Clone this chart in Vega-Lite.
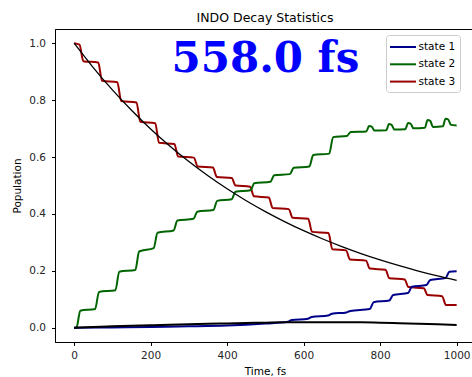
{
  "$schema": "https://vega.github.io/schema/vega-lite/v6.json",
  "autosize": "none",
  "width": 420,
  "height": 313,
  "padding": {"left": 55, "top": 29, "right": 0, "bottom": 35},
  "background": "white",
  "title": {"text": "INDO Decay Statistics", "anchor": "middle", "font": "DejaVu Sans", "fontSize": 12.5, "fontWeight": "normal", "color": "black", "baseline": "alphabetic", "offset": -5.5},
  "config": {
    "view": {"stroke": "black", "strokeWidth": 1},
    "axis": {"grid": false, "domainColor": "black", "tickColor": "black", "tickSize": 3.5, "labelFont": "DejaVu Sans", "labelFontSize": 10.5, "labelColor": "#262626", "titleFont": "DejaVu Sans", "titleFontSize": 10.5, "titleFontWeight": "normal", "titleColor": "black"}
  },
  "datasets": {
    "states": [
      {"t": 0, "pop": 1.0, "series": "state 3"}, {"t": 14, "pop": 0.995, "series": "state 3"}, {"t": 24, "pop": 0.937, "series": "state 3"},
      {"t": 63, "pop": 0.932, "series": "state 3"}, {"t": 73, "pop": 0.868, "series": "state 3"},
      {"t": 113, "pop": 0.863, "series": "state 3"}, {"t": 123, "pop": 0.797, "series": "state 3"},
      {"t": 163, "pop": 0.792, "series": "state 3"}, {"t": 173, "pop": 0.724, "series": "state 3"},
      {"t": 212, "pop": 0.719, "series": "state 3"}, {"t": 222, "pop": 0.65, "series": "state 3"},
      {"t": 262, "pop": 0.646, "series": "state 3"}, {"t": 272, "pop": 0.602, "series": "state 3"},
      {"t": 313, "pop": 0.598, "series": "state 3"}, {"t": 323, "pop": 0.567, "series": "state 3"},
      {"t": 363, "pop": 0.563, "series": "state 3"}, {"t": 373, "pop": 0.53, "series": "state 3"},
      {"t": 412, "pop": 0.526, "series": "state 3"}, {"t": 422, "pop": 0.5, "series": "state 3"},
      {"t": 460, "pop": 0.496, "series": "state 3"}, {"t": 470, "pop": 0.462, "series": "state 3"},
      {"t": 509, "pop": 0.458, "series": "state 3"}, {"t": 519, "pop": 0.421, "series": "state 3"},
      {"t": 561, "pop": 0.417, "series": "state 3"}, {"t": 571, "pop": 0.387, "series": "state 3"},
      {"t": 612, "pop": 0.383, "series": "state 3"}, {"t": 622, "pop": 0.337, "series": "state 3"},
      {"t": 665, "pop": 0.333, "series": "state 3"}, {"t": 675, "pop": 0.276, "series": "state 3"},
      {"t": 711, "pop": 0.272, "series": "state 3"}, {"t": 721, "pop": 0.24, "series": "state 3"},
      {"t": 763, "pop": 0.236, "series": "state 3"}, {"t": 773, "pop": 0.208, "series": "state 3"},
      {"t": 814, "pop": 0.204, "series": "state 3"}, {"t": 824, "pop": 0.174, "series": "state 3"},
      {"t": 864, "pop": 0.17, "series": "state 3"}, {"t": 874, "pop": 0.143, "series": "state 3"},
      {"t": 914, "pop": 0.139, "series": "state 3"}, {"t": 924, "pop": 0.115, "series": "state 3"},
      {"t": 962, "pop": 0.111, "series": "state 3"}, {"t": 972, "pop": 0.08, "series": "state 3"},
      {"t": 1000, "pop": 0.08, "series": "state 3"},

      {"t": 0, "pop": 0.0, "series": "state 2"}, {"t": 6, "pop": 0.0, "series": "state 2"}, {"t": 16, "pop": 0.06, "series": "state 2"},
      {"t": 55, "pop": 0.066, "series": "state 2"}, {"t": 65, "pop": 0.126, "series": "state 2"},
      {"t": 108, "pop": 0.132, "series": "state 2"}, {"t": 118, "pop": 0.197, "series": "state 2"},
      {"t": 160, "pop": 0.203, "series": "state 2"}, {"t": 170, "pop": 0.268, "series": "state 2"},
      {"t": 208, "pop": 0.28, "series": "state 2"}, {"t": 218, "pop": 0.334, "series": "state 2"},
      {"t": 260, "pop": 0.342, "series": "state 2"}, {"t": 270, "pop": 0.377, "series": "state 2"},
      {"t": 312, "pop": 0.383, "series": "state 2"}, {"t": 322, "pop": 0.408, "series": "state 2"},
      {"t": 364, "pop": 0.414, "series": "state 2"}, {"t": 374, "pop": 0.446, "series": "state 2"},
      {"t": 412, "pop": 0.452, "series": "state 2"}, {"t": 422, "pop": 0.478, "series": "state 2"},
      {"t": 461, "pop": 0.483, "series": "state 2"}, {"t": 471, "pop": 0.508, "series": "state 2"},
      {"t": 513, "pop": 0.513, "series": "state 2"}, {"t": 523, "pop": 0.536, "series": "state 2"},
      {"t": 564, "pop": 0.54, "series": "state 2"}, {"t": 574, "pop": 0.562, "series": "state 2"},
      {"t": 615, "pop": 0.567, "series": "state 2"}, {"t": 625, "pop": 0.607, "series": "state 2"},
      {"t": 667, "pop": 0.612, "series": "state 2"}, {"t": 677, "pop": 0.67, "series": "state 2"},
      {"t": 713, "pop": 0.674, "series": "state 2"}, {"t": 723, "pop": 0.688, "series": "state 2"},
      {"t": 764, "pop": 0.69, "series": "state 2"}, {"t": 771, "pop": 0.709, "series": "state 2"}, {"t": 778, "pop": 0.707, "series": "state 2"}, {"t": 785, "pop": 0.693, "series": "state 2"},
      {"t": 816, "pop": 0.694, "series": "state 2"}, {"t": 823, "pop": 0.716, "series": "state 2"}, {"t": 830, "pop": 0.713, "series": "state 2"}, {"t": 837, "pop": 0.697, "series": "state 2"},
      {"t": 866, "pop": 0.698, "series": "state 2"}, {"t": 873, "pop": 0.72, "series": "state 2"}, {"t": 880, "pop": 0.717, "series": "state 2"}, {"t": 887, "pop": 0.701, "series": "state 2"},
      {"t": 917, "pop": 0.703, "series": "state 2"}, {"t": 924, "pop": 0.73, "series": "state 2"}, {"t": 931, "pop": 0.727, "series": "state 2"}, {"t": 938, "pop": 0.706, "series": "state 2"},
      {"t": 964, "pop": 0.708, "series": "state 2"}, {"t": 971, "pop": 0.735, "series": "state 2"}, {"t": 978, "pop": 0.732, "series": "state 2"}, {"t": 985, "pop": 0.713, "series": "state 2"},
      {"t": 1000, "pop": 0.711, "series": "state 2"},

      {"t": 0, "pop": 0.0, "series": "state 1"}, {"t": 100, "pop": 0.001, "series": "state 1"}, {"t": 200, "pop": 0.003, "series": "state 1"},
      {"t": 300, "pop": 0.005, "series": "state 1"}, {"t": 400, "pop": 0.008, "series": "state 1"}, {"t": 450, "pop": 0.011, "series": "state 1"},
      {"t": 500, "pop": 0.015, "series": "state 1"}, {"t": 559, "pop": 0.021, "series": "state 1"}, {"t": 569, "pop": 0.027, "series": "state 1"},
      {"t": 611, "pop": 0.032, "series": "state 1"}, {"t": 621, "pop": 0.038, "series": "state 1"}, {"t": 664, "pop": 0.043, "series": "state 1"},
      {"t": 674, "pop": 0.049, "series": "state 1"}, {"t": 712, "pop": 0.054, "series": "state 1"}, {"t": 722, "pop": 0.059, "series": "state 1"},
      {"t": 773, "pop": 0.066, "series": "state 1"}, {"t": 783, "pop": 0.09, "series": "state 1"}, {"t": 824, "pop": 0.096, "series": "state 1"},
      {"t": 834, "pop": 0.115, "series": "state 1"}, {"t": 873, "pop": 0.122, "series": "state 1"}, {"t": 883, "pop": 0.144, "series": "state 1"},
      {"t": 921, "pop": 0.15, "series": "state 1"}, {"t": 931, "pop": 0.168, "series": "state 1"}, {"t": 971, "pop": 0.175, "series": "state 1"},
      {"t": 981, "pop": 0.197, "series": "state 1"}, {"t": 1000, "pop": 0.199, "series": "state 1"}
    ],
    "fit": [
      {"t": 0, "pop": 1.0}, {"t": 50, "pop": 0.9143}, {"t": 100, "pop": 0.8359}, {"t": 150, "pop": 0.7643},
      {"t": 200, "pop": 0.6988}, {"t": 250, "pop": 0.6389}, {"t": 300, "pop": 0.5841}, {"t": 350, "pop": 0.5341},
      {"t": 400, "pop": 0.4883}, {"t": 450, "pop": 0.4464}, {"t": 500, "pop": 0.4082}, {"t": 550, "pop": 0.3732},
      {"t": 600, "pop": 0.3412}, {"t": 650, "pop": 0.3119}, {"t": 700, "pop": 0.2852}, {"t": 750, "pop": 0.2607},
      {"t": 800, "pop": 0.2384}, {"t": 850, "pop": 0.218}, {"t": 900, "pop": 0.1993}, {"t": 950, "pop": 0.1822},
      {"t": 1000, "pop": 0.1666}
    ],
    "low": [
      {"t": 0, "pop": 0.0}, {"t": 50, "pop": 0.003}, {"t": 100, "pop": 0.005}, {"t": 150, "pop": 0.007},
      {"t": 200, "pop": 0.009}, {"t": 250, "pop": 0.011}, {"t": 300, "pop": 0.012}, {"t": 350, "pop": 0.014},
      {"t": 400, "pop": 0.015}, {"t": 450, "pop": 0.017}, {"t": 500, "pop": 0.018}, {"t": 550, "pop": 0.019},
      {"t": 600, "pop": 0.019}, {"t": 650, "pop": 0.019}, {"t": 700, "pop": 0.019}, {"t": 750, "pop": 0.019},
      {"t": 800, "pop": 0.018}, {"t": 850, "pop": 0.016}, {"t": 900, "pop": 0.014}, {"t": 950, "pop": 0.012},
      {"t": 1000, "pop": 0.01}
    ],
    "note": [{"label": "558.0 fs"}]
  },
  "layer": [
    {
      "data": {"name": "states"},
      "mark": {"type": "line", "strokeWidth": 2, "interpolate": "monotone"},
      "encoding": {
        "x": {"field": "t", "type": "quantitative", "scale": {"domain": [-50, 1048], "nice": false, "zero": false},
          "axis": {"values": [0, 200, 400, 600, 800, 1000], "format": "d", "title": "Time, fs", "labelPadding": 5, "titleBaseline": "alphabetic", "titleY": 32}},
        "y": {"field": "pop", "type": "quantitative", "scale": {"domain": [-0.05, 1.05], "nice": false, "zero": false},
          "axis": {"values": [0, 0.2, 0.4, 0.6, 0.8, 1.0], "format": ".1f", "title": "Population", "labelPadding": 6, "titleX": -38, "titleBaseline": "middle"}},
        "color": {"field": "series", "type": "nominal",
          "scale": {"domain": ["state 1", "state 2", "state 3"], "range": ["#00008b", "#006400", "#990000"]},
          "legend": {"title": null, "orient": "none", "legendX": 331, "legendY": 6, "symbolType": "M-2,0H2", "symbolSize": 169, "symbolStrokeWidth": 2, "symbolOffset": 5,
            "labelFont": "DejaVu Sans", "labelFontSize": 10.5, "labelColor": "black", "labelOffset": 8, "fillColor": "white", "strokeColor": "#cccccc", "cornerRadius": 3, "padding": 4.5, "rowPadding": 4.3}
        }
      }
    },
    {
      "data": {"name": "fit"},
      "mark": {"type": "line", "color": "black", "strokeWidth": 1.3, "interpolate": "monotone"},
      "encoding": {
        "x": {"field": "t", "type": "quantitative"},
        "y": {"field": "pop", "type": "quantitative"}
      }
    },
    {
      "data": {"name": "low"},
      "mark": {"type": "line", "color": "black", "strokeWidth": 2, "interpolate": "monotone"},
      "encoding": {
        "x": {"field": "t", "type": "quantitative"},
        "y": {"field": "pop", "type": "quantitative"}
      }
    },
    {
      "data": {"name": "note"},
      "mark": {"type": "text", "font": "DejaVu Serif", "fontWeight": "bold", "fontSize": 42, "fill": "#0000ff", "align": "center", "baseline": "alphabetic"},
      "encoding": {
        "x": {"datum": 500},
        "y": {"datum": 0.9},
        "text": {"field": "label", "type": "nominal"}
      }
    }
  ]
}
